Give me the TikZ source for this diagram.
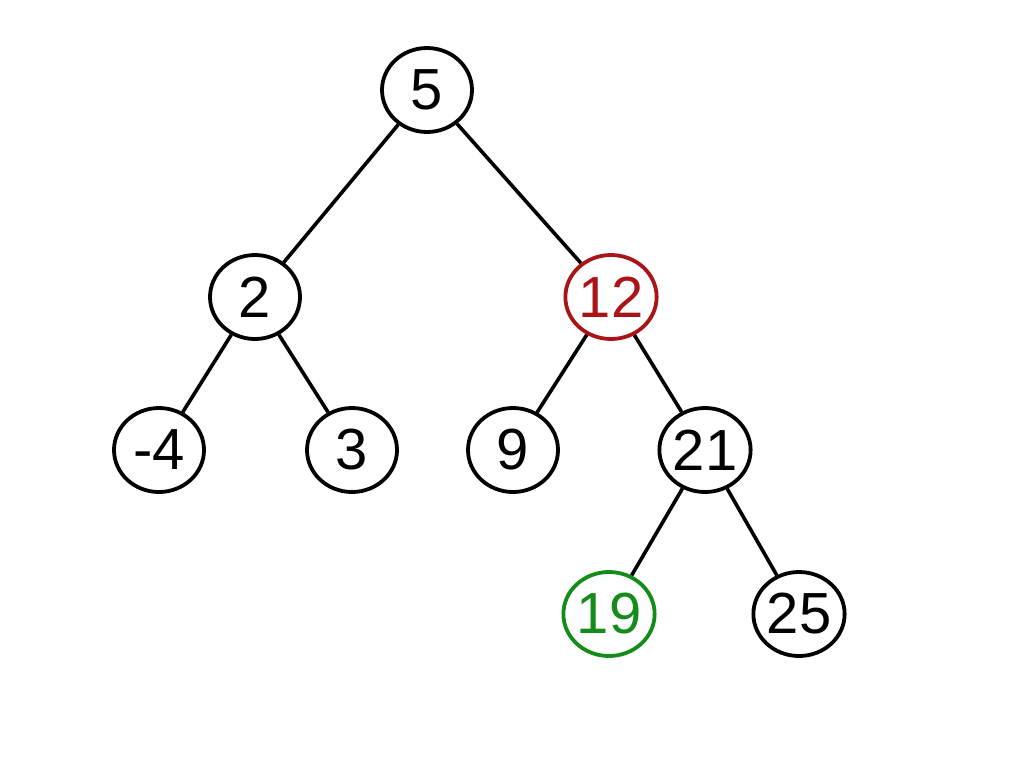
\documentclass[tikz,border=0pt]{standalone}
\usepackage{fontspec}
\setmainfont{Liberation Sans}
\usetikzlibrary{shapes.geometric}
\definecolor{nodered}{RGB}{170,20,25}
\definecolor{nodegreen}{RGB}{20,140,25}
\begin{document}
\begin{tikzpicture}[x=1pt,y=-1pt,
  tnode/.style={ellipse,draw,line width=3.8pt,minimum width=90pt,minimum height=84pt,inner sep=0pt,font=\fontsize{58}{58}\selectfont},
  edge/.style={line width=3.6pt}]
\useasboundingbox (0,0) rectangle (1024,768);
\node[tnode] (n5) at (427,90) {5};
\node[tnode] (n2) at (255,297) {2};
\node[tnode,draw=nodered,text=nodered] (n12) at (611,297) {12};
\node[tnode] (nm4) at (159,450) {-4};
\node[tnode] (n3) at (352,450) {3};
\node[tnode] (n9) at (513,450) {9};
\node[tnode] (n21) at (705,450) {21};
\node[tnode,draw=nodegreen,text=nodegreen] (n19) at (609,614) {19};
\node[tnode] (n25) at (799,614) {25};
\draw[edge] (n5) -- (n2);
\draw[edge] (n5) -- (n12);
\draw[edge] (n2) -- (nm4);
\draw[edge] (n2) -- (n3);
\draw[edge] (n12) -- (n9);
\draw[edge] (n12) -- (n21);
\draw[edge] (n21) -- (n19);
\draw[edge] (n21) -- (n25);
\end{tikzpicture}
\end{document}
